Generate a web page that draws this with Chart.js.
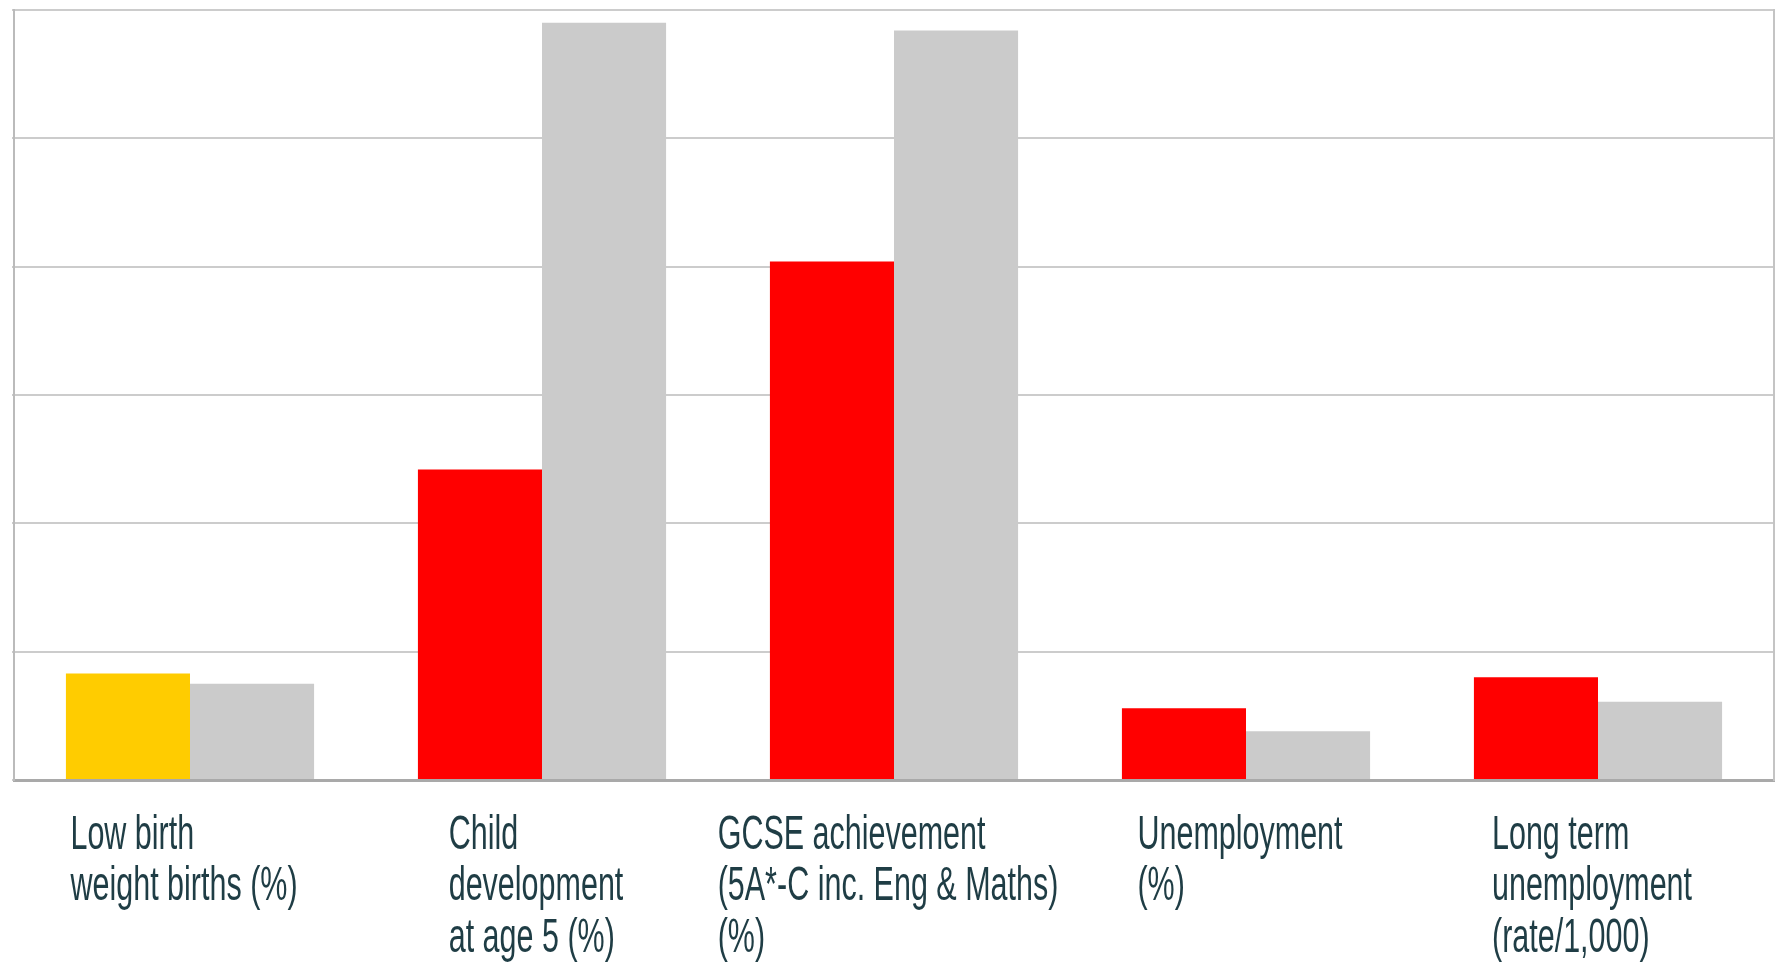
<!DOCTYPE html>
<html>
<head>
<meta charset="utf-8">
<script src="https://cdn.jsdelivr.net/npm/chart.js@4.4.0/dist/chart.umd.min.js"></script>
<style>
  html, body { margin: 0; padding: 0; background: #fff; }
  #wrap { width: 1787px; height: 973px; }
</style>
</head>
<body>
<div id="wrap"><canvas id="chart"></canvas></div>
<script>
const categories = [
  ['Low birth', 'weight births (%)'],
  ['Child', 'development', 'at age 5 (%)'],
  ['GCSE achievement', '(5A*-C inc. Eng & Maths)', '(%)'],
  ['Unemployment', '(%)'],
  ['Long term', 'unemployment', '(rate/1,000)']
];
const localValues = [8.3, 24.2, 40.4, 5.6, 8.0];
const localColours = ['#ffcc00', '#ff0000', '#ff0000', '#ff0000', '#ff0000'];
const comparatorValues = [7.5, 59.0, 58.4, 3.8, 6.1];

// category labels: lines left aligned, block centred under the bars
const labelPlugin = {
  id: 'blockLabels',
  afterDraw(chart) {
    const ctx = chart.ctx;
    const x = chart.scales.x;
    const stretch = 1.55;
    ctx.save();
    ctx.font = '30.5px "Liberation Sans", Arial, sans-serif';
    ctx.fillStyle = '#1f3d45';
    ctx.textAlign = 'left';
    ctx.textBaseline = 'alphabetic';
    ctx.scale(1, stretch);
    categories.forEach((lines, i) => {
      const w = Math.max(...lines.map(l => ctx.measureText(l).width));
      const left = x.getPixelForValue(i) - w / 2 - 6;
      lines.forEach((line, j) => {
        ctx.fillText(line, left, (849 + j * 51.5) / stretch);
      });
    });
    ctx.restore();
  }
};

new Chart(document.getElementById('chart'), {
  type: 'bar',
  data: {
    labels: categories,
    datasets: [
      {
        data: localValues,
        backgroundColor: localColours,
        borderWidth: 0,
        categoryPercentage: 0.705,
        barPercentage: 1
      },
      {
        data: comparatorValues,
        backgroundColor: '#cbcbcb',
        borderWidth: 0,
        categoryPercentage: 0.705,
        barPercentage: 1
      }
    ]
  },
  options: {
    responsive: true,
    maintainAspectRatio: false,
    animation: false,
    layout: { padding: { left: 12, top: 10, right: 13, bottom: 193 } },
    plugins: {
      legend: { display: false },
      tooltip: { enabled: false }
    },
    scales: {
      x: {
        grid: { display: false, drawTicks: false },
        ticks: { display: false },
        border: { display: true, color: '#a9a9a9', width: 3 }
      },
      y: {
        min: 0,
        max: 60,
        ticks: { display: false, stepSize: 10 },
        grid: { color: '#cccccc', lineWidth: 2, tickLength: 2 },
        border: { display: true, color: '#bbbbbb', width: 2 }
      },
      yRight: {
        position: 'right',
        min: 0,
        max: 60,
        ticks: { display: false },
        grid: { display: false, drawTicks: false },
        border: { display: true, color: '#c4c4c4', width: 2 }
      }
    }
  },
  plugins: [labelPlugin]
});
</script>
</body>
</html>
